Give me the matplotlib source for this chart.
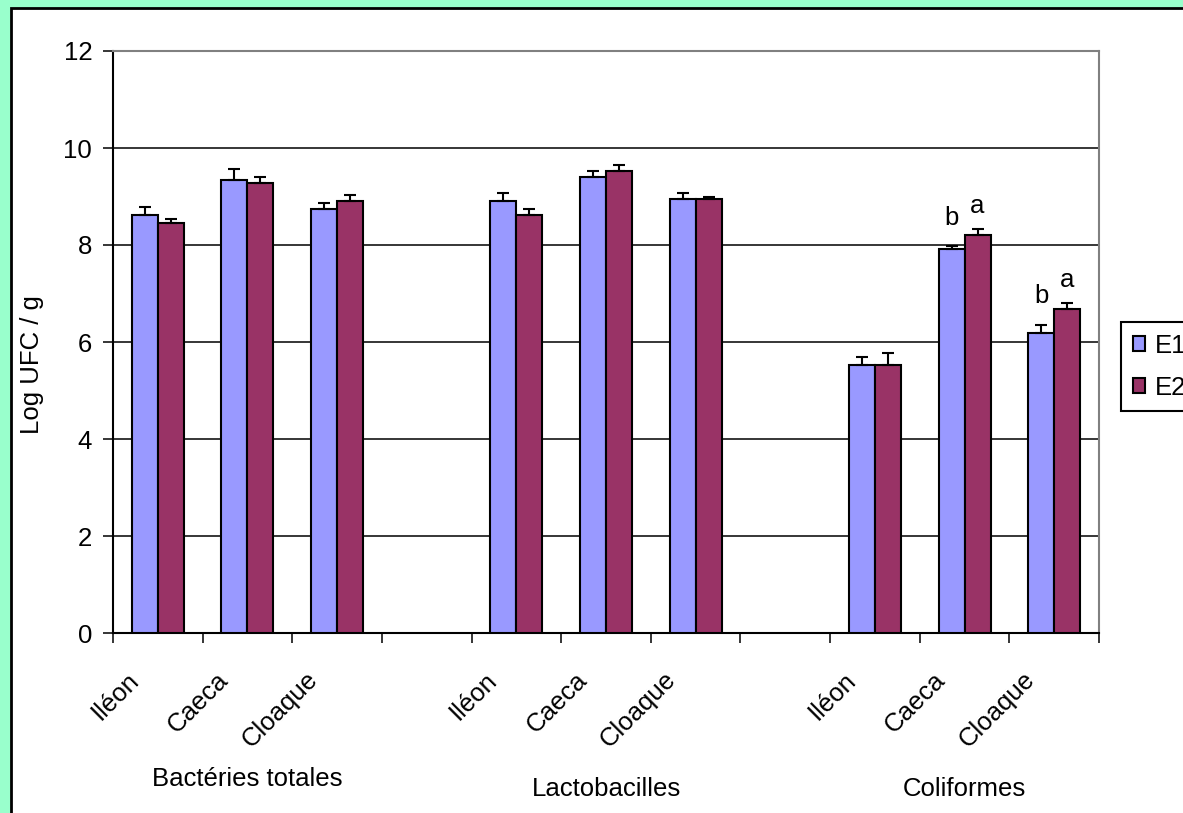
import matplotlib.pyplot as plt
import matplotlib.transforms as mtransforms
from matplotlib.patches import Rectangle, Patch
import numpy as np

plt.rcParams['font.family'] = ['Liberation Sans', 'DejaVu Sans']

sites = ["Iléon", "Caeca", "Cloaque", "", "Iléon", "Caeca", "Cloaque", "", "Iléon", "Caeca", "Cloaque"]
groups = ["Bactéries totales", "Lactobacilles", "Coliformes"]
group_pos = [1, 5, 9]

e1 = [8.62, 9.35, 8.74, 0, 8.91, 9.40, 8.95, 0, 5.53, 7.92, 6.19]
e2 = [8.45, 9.28, 8.91, 0, 8.62, 9.53, 8.95, 0, 5.53, 8.21, 6.68]
e1_err = [0.17, 0.21, 0.13, 0, 0.16, 0.13, 0.13, 0, 0.17, 0.05, 0.16]
e2_err = [0.08, 0.12, 0.12, 0, 0.12, 0.12, 0.04, 0, 0.24, 0.12, 0.12]

# lettres de significativité (index, E1, E2)
lettres = [(9, "b", "a"), (10, "b", "a")]

fs = 18.5
fig = plt.figure(figsize=(11.83, 8.13), dpi=100, facecolor='#99FFCC')
fig.patches.append(Rectangle((11 / 1183, -0.01), 1.01, 1 - 8 / 813 + 0.01,
                             transform=fig.transFigure, facecolor='white',
                             edgecolor='black', linewidth=2, zorder=-10))

ax = fig.add_axes([113 / 1183, 1 - 633 / 813, (1099 - 113) / 1183, (633 - 51) / 813])
ax.set_facecolor('white')

x = np.arange(len(sites))
w = 0.29
mask = np.array(e1) > 0
xe = x[mask]
ax.bar(xe - w / 2, np.array(e1)[mask], w, color='#9999FF', edgecolor='black', linewidth=1.5, zorder=3)
ax.bar(xe + w / 2, np.array(e2)[mask], w, color='#993366', edgecolor='black', linewidth=1.5, zorder=3)
ax.errorbar(xe - w / 2, np.array(e1)[mask], yerr=[np.zeros(mask.sum()), np.array(e1_err)[mask]],
            fmt='none', ecolor='black', elinewidth=1.5, capsize=4.5, capthick=1.5, zorder=4)
ax.errorbar(xe + w / 2, np.array(e2)[mask], yerr=[np.zeros(mask.sum()), np.array(e2_err)[mask]],
            fmt='none', ecolor='black', elinewidth=1.5, capsize=4.5, capthick=1.5, zorder=4)

for i, l1, l2 in lettres:
    ax.annotate(l1, (x[i] - w / 2, e1[i] + e1_err[i]), xytext=(0, 12), textcoords='offset points',
                ha='center', va='bottom', fontsize=fs)
    ax.annotate(l2, (x[i] + w / 2, e2[i] + e2_err[i]), xytext=(0, 8), textcoords='offset points',
                ha='center', va='bottom', fontsize=fs)

ax.set_xlim(-0.5, len(sites) - 0.5)
ax.set_ylim(0, 12)
ax.set_yticks(range(0, 13, 2))
ax.yaxis.grid(True, color='black', linewidth=1.1)
ax.set_axisbelow(True)
ax.tick_params(axis='y', labelsize=fs, direction='out', length=7, width=1.1, pad=8)

ax.set_xticks(np.arange(-0.5, len(sites), 1))
ax.set_xticklabels([])
ax.tick_params(axis='x', which='major', direction='out', length=7, width=1.1)
ax.set_xticks(x, minor=True)
ax.set_xticklabels(sites, minor=True, rotation=45, ha='right', va='center',
                   rotation_mode='anchor', fontsize=fs)
ax.tick_params(axis='x', which='minor', length=0, pad=31)
off = mtransforms.ScaledTranslation(-0.23, 0, fig.dpi_scale_trans)
for lbl in ax.get_xticklabels(minor=True):
    lbl.set_transform(lbl.get_transform() + off)

for s in ['left', 'bottom']:
    ax.spines[s].set_color('black')
    ax.spines[s].set_linewidth(1.5)
for s in ['top', 'right']:
    ax.spines[s].set_color('#808080')
    ax.spines[s].set_linewidth(1.5)

bt = mtransforms.blended_transform_factory(ax.transData, fig.transFigure)
for g, p in zip(groups, group_pos):
    yy = (813 - 779) / 813 if p == 1 else (813 - 789) / 813
    fig.text(p, yy, g, transform=bt, ha='center', va='center', fontsize=fs)

fig.text(32 / 1183, 1 - 365 / 813, "Log UFC / g", rotation=90, ha='center', va='center', fontsize=fs)

handles = [Patch(facecolor='#9999FF', edgecolor='black', linewidth=1.5),
           Patch(facecolor='#993366', edgecolor='black', linewidth=1.5)]
leg = fig.legend(handles, ["E1", "E2"], loc='upper left', bbox_to_anchor=(1121 / 1183, 1 - 322 / 813),
                 fontsize=fs, frameon=True, fancybox=False, edgecolor='black', framealpha=1,
                 handlelength=0.5, handleheight=0.5, handletextpad=0.35, labelspacing=0.7,
                 borderpad=0.45, borderaxespad=0)
leg.get_frame().set_linewidth(1.5)

fig.savefig("out.png", dpi=100, facecolor=fig.get_facecolor())
